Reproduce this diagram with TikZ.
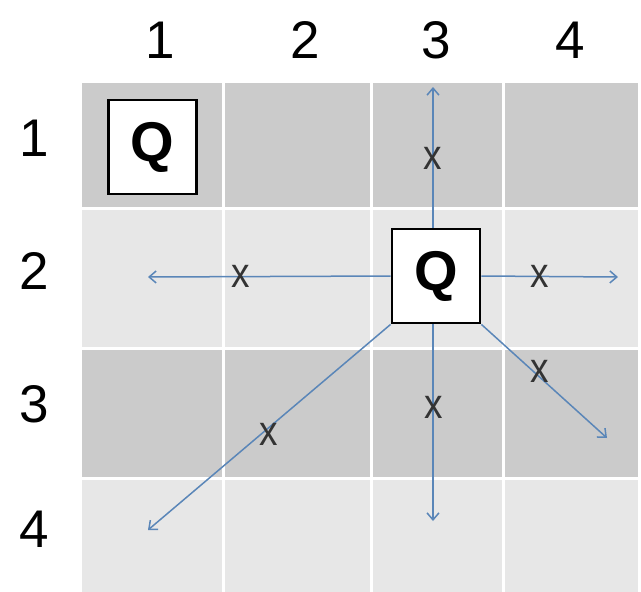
\documentclass[tikz,border=0pt]{standalone}
\usepackage{fontspec}
\setmainfont{Liberation Sans}
\usetikzlibrary{arrows.meta}
\definecolor{darkcell}{HTML}{CBCBCB}
\definecolor{lightcell}{HTML}{E7E7E7}
\definecolor{arrowblue}{HTML}{5A86B8}
\begin{document}
\begin{tikzpicture}[x=1pt,y=-1pt,
  lbl/.style={font=\fontsize{53}{53}\selectfont, inner sep=0pt},
  qbox/.style={draw=black, line width=2.8pt, fill=white, minimum width=88pt, minimum height=94pt, inner sep=0pt, font=\fontsize{56}{56}\selectfont\bfseries},
  xm/.style={font=\fontsize{42}{42}\selectfont, text=black!80, inner sep=0pt, xscale=0.88},
  arr/.style={draw=arrowblue, line width=1.5pt, -{Straight Barb[length=7pt,width=12pt]}}]
\useasboundingbox (0,0) rectangle (641,592);
\fill[white] (0,0) rectangle (641,592);
% rows
\fill[darkcell] (82,83) rectangle (638,208);
\fill[lightcell] (82,208) rectangle (638,348);
\fill[darkcell] (82,348) rectangle (638,478);
\fill[lightcell] (82,478) rectangle (638,592);
% white separators
\foreach \xx in {223,371,503} \draw[white, line width=3pt] (\xx,83) -- (\xx,592);
\foreach \yy in {208,348,478} \draw[white, line width=3pt] (82,\yy) -- (638,\yy);
% labels
\node[lbl] (c1) at (160,40) {1};
\node[lbl] (c2) at (305,40) {2};
\node[lbl] (c3) at (436,40) {3};
\node[lbl] (c4) at (570,40) {4};
\node[lbl] (r1) at (34,138) {1};
\node[lbl] (r2) at (34,271) {2};
\node[lbl] (r3) at (34,404) {3};
\node[lbl] (r4) at (34,529) {4};
% queens
\node[qbox] (q1) at (152.5,147) {Q};
\node[qbox] (q2) at (436,276) {Q};
% arrow ends
\coordinate (up) at (433,87);
\coordinate (down) at (433,521);
\coordinate (left) at (148,277);
\coordinate (right) at (618,277);
\coordinate (dr) at (607,438);
\coordinate (dl) at (148,530);
\draw[arr] (up |- q2.north) -- (up);
\draw[arr] (down |- q2.south) -- (down);
\draw[arr] (q2.west) -- (left);
\draw[arr] (q2.east) -- (right);
\draw[arr] (q2.south east) -- (dr);
\draw[arr] (q2.south west) -- (dl);
% x marks
\node[xm] (x1) at (433,158) {x};
\node[xm] (x2) at (241,276) {x};
\node[xm] (x3) at (540,276) {x};
\node[xm] (x4) at (434,407) {x};
\node[xm] (x5) at (540,371) {x};
\node[xm] (x6) at (269,434) {x};
\end{tikzpicture}
\end{document}
